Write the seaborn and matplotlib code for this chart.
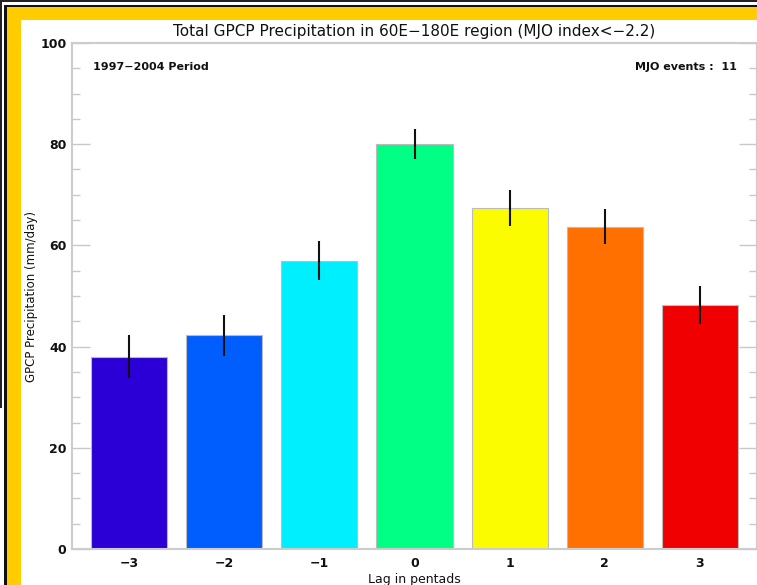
import matplotlib
matplotlib.use("Agg")
import matplotlib.pyplot as plt
import seaborn as sns
import pandas as pd
from matplotlib.patches import Rectangle
from matplotlib.ticker import MultipleLocator

lags = [-3, -2, -1, 0, 1, 2, 3]
precip = [38.0, 42.2, 57.0, 80.0, 67.4, 63.7, 48.2]
errors = [4.2, 4.0, 3.9, 3.0, 3.6, 3.5, 3.8]
colors = ["#2a00d6", "#005eff", "#00efff", "#00ff84", "#fcfc00", "#ff7000", "#f00000"]

title = "Total GPCP Precipitation in 60E\u2212180E region (MJO index<\u22122.2)"
period_text = "1997\u22122004 Period"
events_text = "MJO events :  11"
xlabel = "Lag in pentads"
ylabel = "GPCP Precipitation (mm/day)"

W, H = 757, 585
sns.set_theme(style="white")
plt.rcParams['font.family'] = ['DejaVu Sans']
plt.rcParams['axes.unicode_minus'] = True

fig = plt.figure(figsize=(W / 100, H / 100), dpi=100)
fig.patch.set_facecolor("white")

def px_rect(x0, y0, x1, y1, color):
    # pixel coords from top-left
    fig.patches.append(Rectangle((x0 / W, 1 - y1 / H), (x1 - x0) / W, (y1 - y0) / H,
                                 transform=fig.transFigure, facecolor=color,
                                 edgecolor="none", zorder=-5))

# frame decoration
px_rect(0, 0, W, 1.5, "#222222")
px_rect(0, 0, 1.5, 408, "#222222")
px_rect(4, 4.5, W, 7, "#111111")
px_rect(4, 4.5, 6.5, H, "#111111")
px_rect(6.5, 7, W, 20, "#ffcc00")
px_rect(6.5, 7, 21, H, "#ffcc00")

ax = fig.add_axes([72 / W, (H - 549) / H, (757 - 72) / W, (549 - 43) / H])

df = pd.DataFrame({"lag": lags, "precip": precip})
sns.barplot(data=df, x="lag", y="precip", hue="lag", palette=colors, legend=False,
            native_scale=True, width=0.8, errorbar=None, edgecolor="#bbbbbb",
            linewidth=0.8, saturation=1, ax=ax, zorder=2)
ax.errorbar(lags, precip, yerr=errors, fmt="none", ecolor="#111111",
            elinewidth=1.5, capsize=0, zorder=3)

ax.set_xlim(-3.6, 3.6)
ax.set_ylim(0, 100)
ax.set_xticks(lags)
ax.set_xticklabels([str(v).replace("-", "\u2212") for v in lags])
ax.yaxis.set_major_locator(MultipleLocator(20))
ax.yaxis.set_minor_locator(MultipleLocator(5))
ax.tick_params(axis="y", which="major", direction="in", length=13, width=1,
               color="#c8c8c8", left=True, right=True, labelsize=9, pad=4)
ax.tick_params(axis="y", which="minor", direction="in", length=6, width=1,
               color="#c8c8c8", left=True, right=True)
ax.tick_params(axis="x", which="major", direction="in", length=13, width=1,
               color="#999999", bottom=True, top=False, labelsize=9, pad=6)
for lab in ax.get_xticklabels() + ax.get_yticklabels():
    lab.set_fontweight("bold")
    lab.set_color("#111111")
for s in ax.spines.values():
    s.set_visible(True)
    s.set_color("#cccccc")
    s.set_linewidth(1.5)

ax.set_xlabel(xlabel, fontsize=9, color="#111111", labelpad=2)
ax.set_ylabel(ylabel, fontsize=8.5, color="#111111")
ax.yaxis.set_label_coords((38 - 72) / (757 - 72), 0.5)
ax.set_title(title, fontsize=11, color="#111111", pad=5)

ax.text(93 / W, 1 - 67 / H, period_text, transform=fig.transFigure, fontsize=8,
        fontweight="bold", va="center", ha="left", color="#111111")
ax.text(737 / W, 1 - 67 / H, events_text, transform=fig.transFigure, fontsize=8,
        fontweight="bold", va="center", ha="right", color="#111111")

fig.savefig("out.png", dpi=100)
